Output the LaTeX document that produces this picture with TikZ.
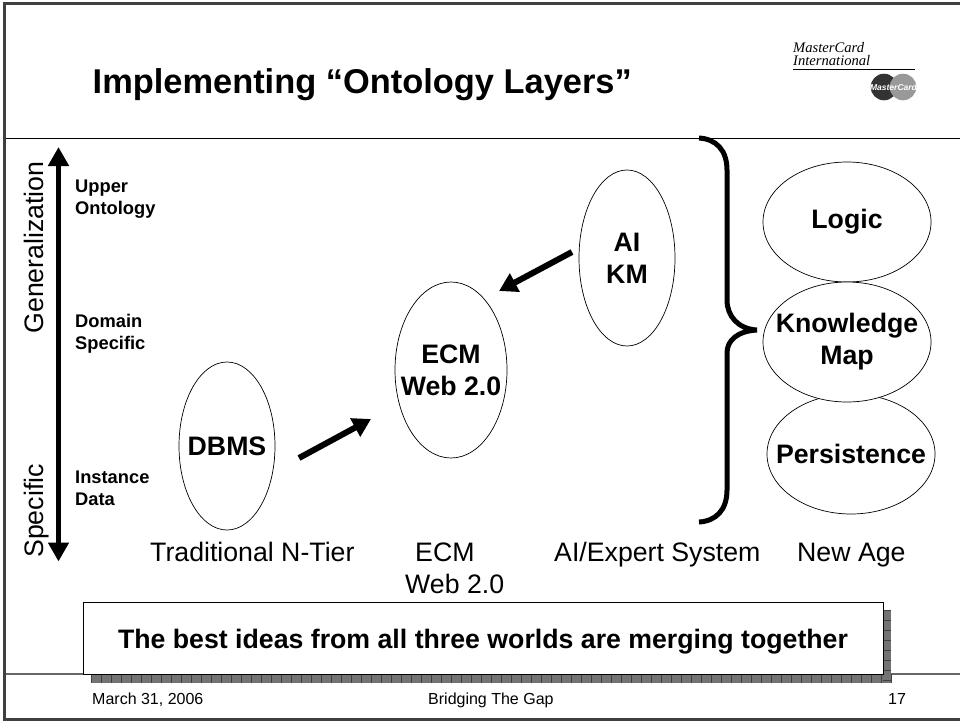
\documentclass[tikz,border=0pt]{standalone}
\usepackage{fontspec}
\setmainfont{Liberation Sans}
\newfontfamily\logofont{Liberation Serif}
\usetikzlibrary{shapes.geometric}
\usetikzlibrary{arrows.meta}
\newcommand{\fsize}[1]{\fontsize{#1}{1.2\dimexpr #1pt\relax}\selectfont}
\tikzset{
    oval/.style={draw, ellipse, fill=white, inner sep=0pt, line width=0.7pt},
    ovaltext/.style={align=center, inner sep=0pt, font=\fsize{26.7}\bfseries},
    level/.style={anchor=west, align=left, inner sep=0pt, font=\fsize{18.3}\bfseries},
    column/.style={anchor=base west, inner sep=0pt, font=\fsize{26.7}},
    foot/.style={anchor=base west, inner sep=0pt, font=\fsize{16}},
    axisname/.style={rotate=90, anchor=base, inner sep=0pt, font=\fsize{26.7}},
    logotext/.style={anchor=base west, inner sep=0pt, font=\fsize{14.6}\logofont\itshape},
    bigarrow/.style={line width=6pt, -{Triangle[length=18pt,width=20pt]}}
}
\begin{document}
\begin{tikzpicture}[x=1pt,y=-1pt]
\useasboundingbox (0,0) rectangle (960,721);

%%% cadre
\draw[line width=3pt, draw=black!75] (960,3) -- (4.5,3) -- (4.5,719.5) -- (960,719.5);
\draw[line width=1pt] (6,138) -- (960,138);
\draw[line width=1.2pt, draw=black!60] (6,674) -- (960,674);

%%% titre
\node[anchor=base west, inner sep=0pt, font=\fsize{34.4}\bfseries] (title) at (92.5,93) {Implementing ``Ontology Layers''};

%%% logo
\node[logotext] (logoa) at (793,52) {MasterCard};
\node[logotext] (logob) at (793,65) {International};
\draw[line width=0.7pt] (793,69) -- (915,69);
\fill[black!80] (884,87) circle (13.3);
\fill[black!40] (903,87) circle (13.3);
\node[inner sep=0pt, text=white, font=\fsize{8.5}\bfseries\itshape] (logoc) at (893.5,87) {MasterCard};

%%% axe
\coordinate (axtop) at (58.5,147);
\coordinate (axbot) at (58.5,561.5);
\draw[line width=5.5pt, {Triangle[length=19pt,width=20pt]}-{Triangle[length=19pt,width=20pt]}] (axtop) -- (axbot);
\node[axisname] (gen) at (43,247.5) {Generalization};
\node[axisname] (spe) at (43,511) {Specific};

\node[level] (upper) at (75,199.5) {Upper\\Ontology};
\node[level] (domain) at (75,333.5) {Domain\\Specific};
\node[level] (instance) at (75,488) {Instance\\Data};

%%% ellipses
\node[oval, minimum width=96pt, minimum height=168pt] (dbms) at (227,446) {};
\node[oval, minimum width=112pt, minimum height=176pt] (ecm) at (451,370) {};
\node[oval, minimum width=96pt, minimum height=176pt] (ai) at (627,258) {};

\node[oval, minimum width=168pt, minimum height=120pt] (persist) at (851,454) {};
\node[oval, minimum width=168pt, minimum height=120pt] (logic) at (847,222) {};
\node[oval, minimum width=168pt, minimum height=120pt] (know) at (847,342) {};

\node[ovaltext] (dbmstxt) at (dbms) {DBMS};
\node[ovaltext] (ecmtxt) at (ecm) {ECM\\Web 2.0};
\node[ovaltext] (aitxt) at (ai) {AI\\KM};
\node[ovaltext] (persisttxt) at (persist) {Persistence};
\node[ovaltext] (logictxt) at (logic) {Logic};
\node[ovaltext] (knowtxt) at (know) {Knowledge\\Map};

%%% fleches
\coordinate (a1) at (299,458);
\coordinate (a2) at (371,419);
\coordinate (b1) at (572,252);
\coordinate (b2) at (499,291);
\draw[bigarrow] (a1) -- (a2);
\draw[bigarrow] (b1) -- (b2);

%%% accolade
\draw[line width=5pt] (699,138) .. controls (716,139) and (727,150) .. (727,170) -- (727,300)
    .. controls (727,316) and (738,329) .. (757,330)
    .. controls (738,331) and (727,340) .. (727,353) -- (727,490)
    .. controls (727,510) and (716,521) .. (699,522);

%%% colonnes
\node[column] (col1) at (150,561) {Traditional N-Tier};
\node[column] (col2) at (415,561) {ECM};
\node[column] (col2b) at (405,593) {Web 2.0};
\node[column] (col3) at (554,561) {AI/Expert System};
\node[column] (col4) at (797,561) {New Age};

%%% bandeau
\fill[black!55] (91,610) rectangle (891,682.5);
\foreach \x in {91,101,...,891} \draw[black!75, line width=0.5pt] (\x,674) -- (\x,682.5);
\foreach \y in {610,620,...,680} \draw[black!75, line width=0.5pt] (883,\y) -- (891,\y);
\node[draw, fill=white, line width=1pt, minimum width=800pt, minimum height=72pt, inner sep=0pt] (banner) at (483,638) {};
\node[anchor=base, inner sep=0pt, font=\fsize{26.7}\bfseries] (bannertxt) at (483,648) {The best ideas from all three worlds are merging together};

%%% pied
\node[foot] (date) at (92,704) {March 31, 2006};
\node[foot] (name) at (428,704) {Bridging The Gap};
\node[foot] (page) at (888,704) {17};
\end{tikzpicture}
\end{document}
